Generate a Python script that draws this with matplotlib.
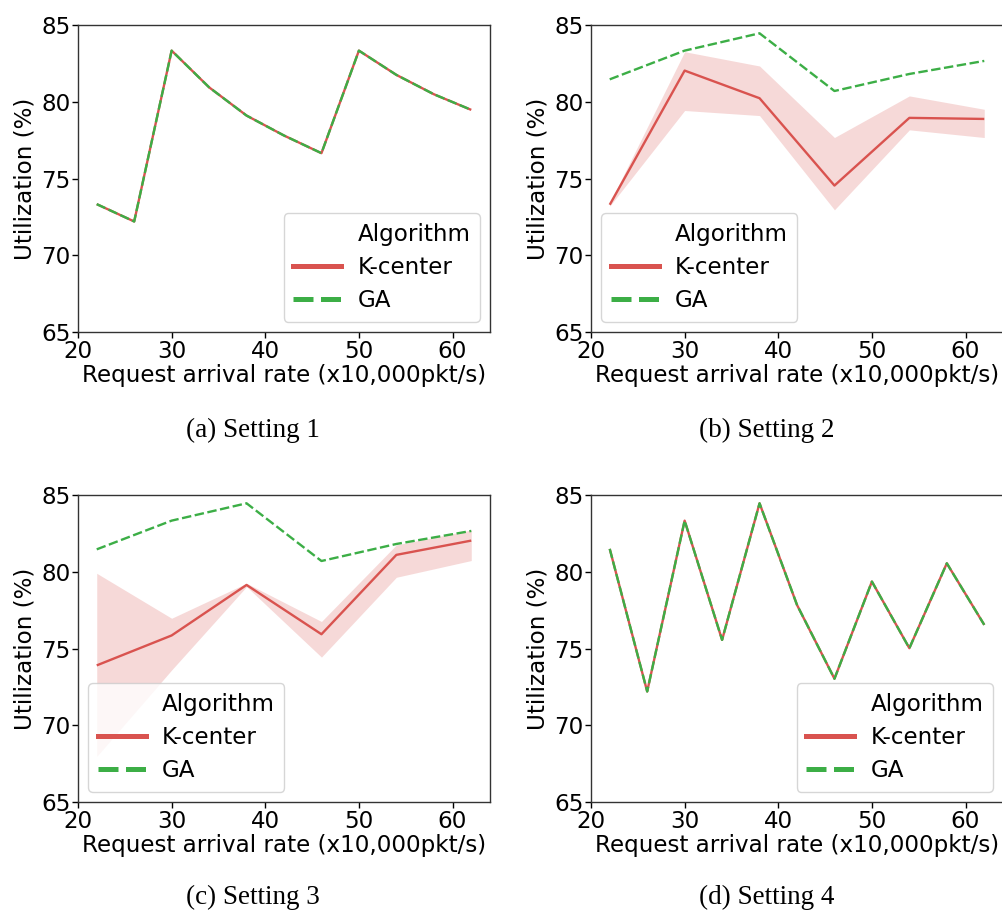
import matplotlib
matplotlib.use("Agg")
import matplotlib.pyplot as plt
from matplotlib.lines import Line2D

plt.rcParams["font.family"] = ["DejaVu Sans"]

# ---------------- data ----------------
x_fine = [22, 26, 30, 34, 38, 42, 46, 50, 54, 58, 62]
x_coarse = [22, 30, 38, 46, 54, 62]

s1_kcenter = [73.33, 72.2, 83.33, 80.94, 79.1, 77.8, 76.65, 83.33, 81.75, 80.49, 79.47]
s1_ga = [73.33, 72.2, 83.33, 80.94, 79.1, 77.8, 76.65, 83.33, 81.75, 80.49, 79.47]

s2_kcenter = [73.29, 82.03, 80.23, 74.54, 78.95, 78.88]
s2_kcenter_lo = [73.2, 79.43, 79.1, 72.96, 78.17, 77.67]
s2_kcenter_hi = [73.4, 83.26, 82.33, 77.67, 80.38, 79.51]
s2_ga = [81.46, 83.33, 84.46, 80.7, 81.81, 82.66]

s3_kcenter = [73.9, 75.85, 79.14, 75.93, 81.1, 82.03]
s3_kcenter_lo = [67.97, 73.6, 79.03, 74.44, 79.64, 80.73]
s3_kcenter_hi = [79.9, 76.97, 79.25, 76.76, 81.75, 82.72]
s3_ga = [81.46, 83.33, 84.46, 80.7, 81.81, 82.66]

s4_kcenter = [81.49, 72.2, 83.33, 75.56, 84.46, 77.84, 73.03, 79.36, 75.02, 80.55, 76.54]
s4_ga = [81.49, 72.2, 83.33, 75.56, 84.46, 77.84, 73.03, 79.36, 75.02, 80.55, 76.54]

xticks = [20, 30, 40, 50, 60]
yticks = [65, 70, 75, 80, 85]
captions = ["(a) Setting 1", "(b) Setting 2", "(c) Setting 3", "(d) Setting 4"]
legend_title = "Algorithm"
series_names = ["K-center", "GA"]
xlabel = "Request arrival rate (x10,000pkt/s)"
ylabel = "Utilization (%)"

RED = "#d9534f"
GREEN = "#3cae46"
FS = 16.6

fig = plt.figure(figsize=(10.03, 9.13), dpi=100)

W = 412 / 1003
H = 307 / 913
positions = [
    (78 / 1003, 1 - 332 / 913),
    (591 / 1003, 1 - 332 / 913),
    (78 / 1003, 1 - 802 / 913),
    (591 / 1003, 1 - 802 / 913),
]
legend_locs = ["lower right", "lower left", "lower left", "lower right"]
panels = [
    (x_fine, s1_kcenter, None, None, s1_ga),
    (x_coarse, s2_kcenter, s2_kcenter_lo, s2_kcenter_hi, s2_ga),
    (x_coarse, s3_kcenter, s3_kcenter_lo, s3_kcenter_hi, s3_ga),
    (x_fine, s4_kcenter, None, None, s4_ga),
]
cap_pos = [(253 / 1003, 1 - 430 / 913), (767 / 1003, 1 - 430 / 913),
           (253 / 1003, 1 - 897 / 913), (767 / 1003, 1 - 897 / 913)]

for i, (pos, (xs, kc, lo, hi, ga)) in enumerate(zip(positions, panels)):
    ax = fig.add_axes([pos[0], pos[1], W, H])
    if lo is not None:
        ax.fill_between(xs, lo, hi, color=RED, alpha=0.22, linewidth=0)
    ax.plot(xs, kc, color=RED, lw=1.7, solid_capstyle="butt")
    ax.plot(xs, ga, color=GREEN, lw=1.7, dashes=(4, 1.5))
    ax.set_xlim(20, 64)
    ax.set_ylim(65, 85)
    ax.set_xticks(xticks)
    ax.set_yticks(yticks)
    ax.tick_params(labelsize=FS, length=4, width=1, pad=1.5)
    ax.set_xlabel(xlabel, fontsize=FS, labelpad=1, family="DejaVu Sans")
    ax.set_ylabel(ylabel, fontsize=FS, labelpad=3, family="DejaVu Sans")
    for lab in ax.get_xticklabels() + ax.get_yticklabels():
        lab.set_family("DejaVu Sans")
    for sp in ax.spines.values():
        sp.set_linewidth(1.0)
        sp.set_color("#333333")
    handles = [
        Line2D([], [], color="none"),
        Line2D([], [], color=RED, lw=3.6),
        Line2D([], [], color=GREEN, lw=3.6, dashes=(4, 1.5)),
    ]
    labels = [legend_title] + series_names
    ax.legend(handles, labels, loc=legend_locs[i],
              prop={"family": "DejaVu Sans", "size": FS},
              handlelength=2.1, handletextpad=0.7, framealpha=0.8,
              borderaxespad=0.45, borderpad=0.4, labelspacing=0.45)
    fig.text(cap_pos[i][0], cap_pos[i][1], captions[i], ha="center", va="center",
             fontsize=19.5, family="Liberation Serif")

fig.savefig("out.png", dpi=100)
